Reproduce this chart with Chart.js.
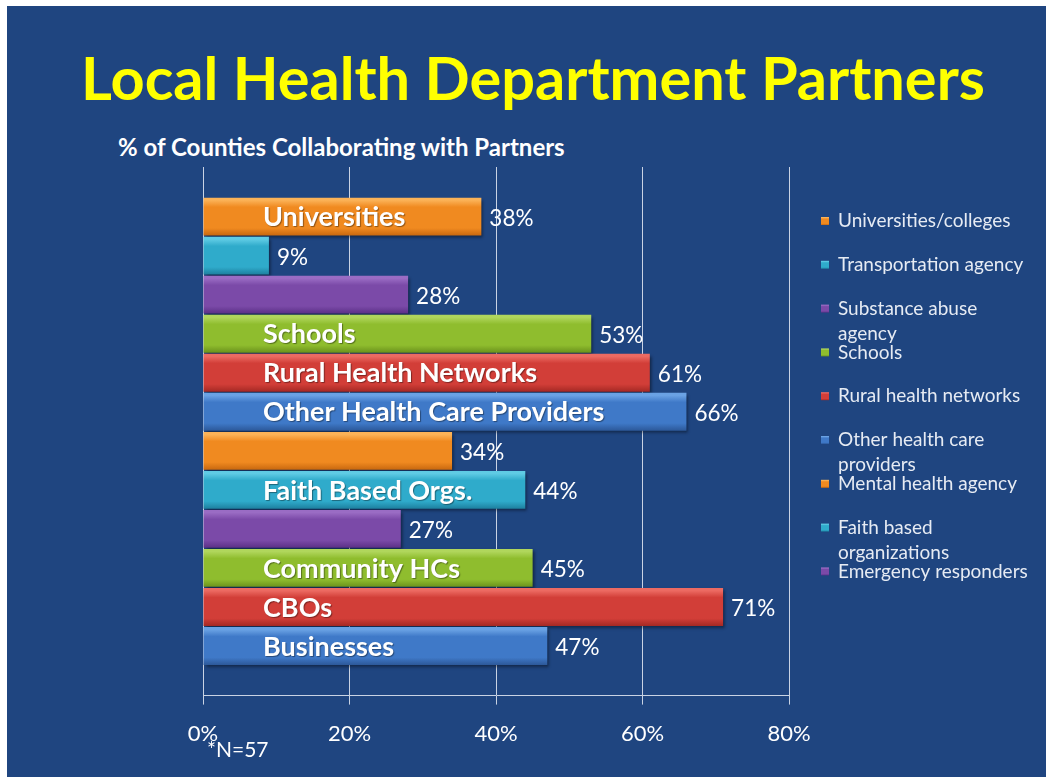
<!DOCTYPE html>
<html>
<head>
<meta charset="utf-8">
<script src="https://cdn.jsdelivr.net/npm/chart.js@4"></script>
<style>
  body { margin: 0; background: #ffffff; width: 1046px; height: 777px; overflow: hidden; position: relative; font-family: Lato, "Open Sans", sans-serif; }
  #slide { position: absolute; left: 7px; top: 6px; width: 1039px; height: 771px; background: #1f4580; }
  #title { position: absolute; left: 0; width: 1066px; top: 41px; text-align: center; color: #ffff00; font-weight: bold; font-size: 59.5px; line-height: 72px; }
  #subtitle { position: absolute; left: 118px; top: 132px; color: #ffffff; font-weight: bold; font-size: 24px; line-height: 30px; }
  #note { position: absolute; left: 207px; top: 736px; color: #ffffff; font-size: 21px; line-height: 25px; }
  #wrap { position: absolute; left: 0; top: 0; width: 1046px; height: 777px; }
</style>
</head>
<body>
<div id="slide"></div>
<div id="title">Local Health Department Partners</div>
<div id="subtitle">% of Counties Collaborating with Partners</div>
<div id="wrap"><canvas id="grafica" width="1046" height="777"></canvas></div>
<div id="note">*N=57</div>

<script>
// ==============================
// DATOS
// ==============================
const categorias = [
    "Universities/colleges",
    "Transportation agency",
    "Substance abuse agency",
    "Schools",
    "Rural health networks",
    "Other health care providers",
    "Mental health agency",
    "Faith based organizations",
    "Emergency responders",
    "Community HCs",
    "CBOs",
    "Businesses"
];
const valores = [38, 9, 28, 53, 61, 66, 34, 44, 27, 45, 71, 47];
const etiquetasBarra = [
    "Universities", "", "", "Schools", "Rural Health Networks",
    "Other Health Care Providers", "", "Faith Based Orgs.", "",
    "Community HCs", "CBOs", "Businesses"
];
// only the first 9 fit in the original legend
const leyenda = [
    ["Universities/colleges"],
    ["Transportation agency"],
    ["Substance abuse", "agency"],
    ["Schools"],
    ["Rural health networks"],
    ["Other health care", "providers"],
    ["Mental health agency"],
    ["Faith based", "organizations"],
    ["Emergency responders"]
];
const ticksX = [0, 20, 40, 60, 80];

// colores: [claro, base, oscuro]
const paleta = [
    ["#fbb257", "#f08a20", "#c8680f"],
    ["#5fcbe4", "#2fabcb", "#1d7f9e"],
    ["#9a6cc4", "#7b4aa8", "#5b3086"],
    ["#b0d65c", "#8fbd2e", "#6b921c"],
    ["#ec6a62", "#d23e38", "#a52924"],
    ["#6aa2e4", "#3f79c8", "#2c5899"]
];
const colorDe = i => paleta[i % paleta.length];

function degradado(ctx, y0, y1, c) {
    const g = ctx.createLinearGradient(0, y0, 0, y1);
    g.addColorStop(0, c[0]);
    g.addColorStop(0.07, c[0]);
    g.addColorStop(0.25, c[1]);
    g.addColorStop(0.8, c[1]);
    g.addColorStop(1, c[2]);
    return g;
}

// ==============================
// PLUGINS
// ==============================
const sombraBarras = {
    id: "sombraBarras",
    beforeDatasetsDraw(chart) {
        const ctx = chart.ctx;
        ctx.save();
        ctx.shadowColor = "rgba(0,0,0,0.45)";
        ctx.shadowOffsetX = 2;
        ctx.shadowOffsetY = 2;
        ctx.shadowBlur = 3;
    },
    afterDatasetsDraw(chart) {
        chart.ctx.restore();
    }
};

const textos = {
    id: "textos",
    afterDraw(chart) {
        const ctx = chart.ctx;
        const meta = chart.getDatasetMeta(0);
        const area = chart.chartArea;
        ctx.save();
        ctx.textBaseline = "middle";
        meta.data.forEach((bar, i) => {
            ctx.fillStyle = "#ffffff";
            ctx.textAlign = "left";
            ctx.font = "22.5px Lato";
            ctx.fillText(valores[i] + "%", bar.x + 8, bar.y + 2);
            if (etiquetasBarra[i]) {
                ctx.font = "bold 27px Lato";
                ctx.shadowColor = "rgba(0,0,0,0.4)";
                ctx.shadowOffsetX = 1;
                ctx.shadowOffsetY = 1;
                ctx.shadowBlur = 1;
                ctx.fillText(etiquetasBarra[i], area.left + 60, bar.y + 1);
                ctx.shadowColor = "transparent";
            }
        });

        // leyenda
        const x0 = 821;
        leyenda.forEach((lineas, i) => {
            const y = 221 + i * 43.8;
            ctx.fillStyle = degradado(ctx, y - 4, y + 4, colorDe(i));
            ctx.fillRect(x0, y - 4, 8, 8);
            ctx.fillStyle = "#e6ebf3";
            ctx.font = "19px Lato";
            lineas.forEach((t, k) => ctx.fillText(t, 838, y + k * 25));
        });
        ctx.restore();
    }
};

// ==============================
// GRÁFICA
// ==============================
new Chart(document.getElementById("grafica"), {
    type: "bar",
    data: {
        datasets: [{
            label: "% of Counties Collaborating with Partners",
            data: valores.map((v, i) => ({ x: v, y: i })),
            backgroundColor(c) {
                const chart = c.chart;
                if (!chart.chartArea || c.dataIndex === undefined) return colorDe(0)[1];
                const yc = chart.scales.y.getPixelForValue(c.dataIndex);
                return degradado(chart.ctx, yc - 19, yc + 19, colorDe(c.dataIndex));
            },
            borderWidth: 0,
            barPercentage: 0.97,
            categoryPercentage: 1
        }]
    },
    options: {
        indexAxis: "y",
        responsive: false,
        animation: false,
        devicePixelRatio: 1,
        layout: { padding: { top: 167, left: 203, right: 257, bottom: 14 } },
        plugins: {
            legend: { display: false },
            tooltip: { enabled: false }
        },
        scales: {
            x: {
                min: ticksX[0],
                max: ticksX[ticksX.length - 1],
                afterBuildTicks(scale) {
                    scale.ticks = ticksX.map(v => ({ value: v }));
                },
                grid: {
                    color: "#c9d3e4",
                    lineWidth: 1,
                    tickLength: 9
                },
                border: { color: "#c9d3e4", width: 1 },
                ticks: {
                    color: "#ffffff",
                    padding: 16,
                    font: { family: "Lato", size: 22 },
                    callback: v => v + "%"
                }
            },
            y: {
                type: "linear",
                display: false,
                offset: false,
                reverse: true,
                min: -1.27,
                max: 12.27
            }
        }
    },
    plugins: [sombraBarras, textos]
});
</script>
</body>
</html>
